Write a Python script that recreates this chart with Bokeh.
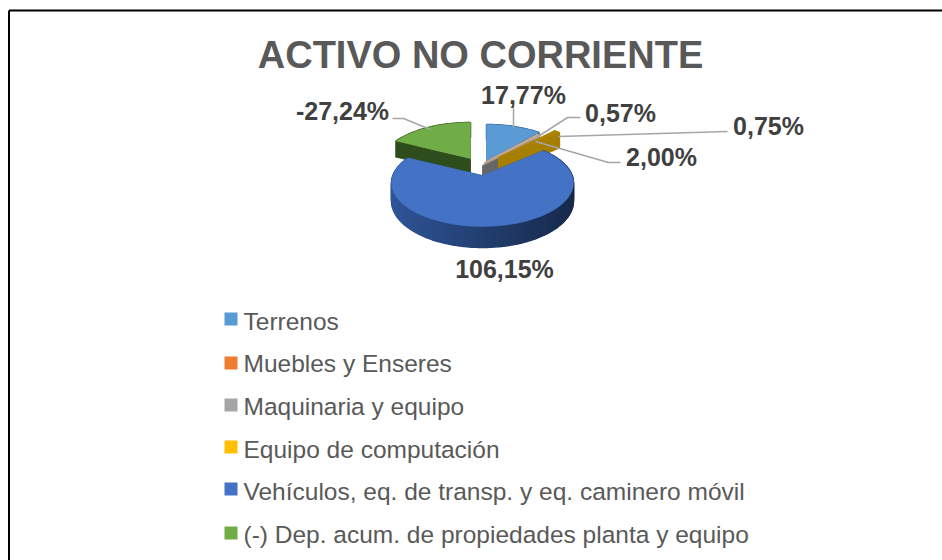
import math
from bokeh.plotting import figure
from bokeh.models import Range1d
from bokeh.core.properties import value
from bokeh.embed import file_html
from bokeh.resources import INLINE

# ---- data ----
title_text = "ACTIVO NO CORRIENTE"
categories = ["Terrenos", "Muebles y Enseres", "Maquinaria y equipo", "Equipo de computación",
              "Vehículos, eq. de transp. y eq. caminero móvil", "(-) Dep. acum. de propiedades planta y equipo"]
percent = [17.77, 0.57, 0.75, 2.00, 106.15, -27.24]
percent_labels = ["17,77%", "0,57%", "0,75%", "2,00%", "106,15%", "-27,24%"]
legend_colors = ["#5B9BD5", "#ED7D31", "#A5A5A5", "#FFC000", "#4472C4", "#70AD47"]
top_colors = ["#5B9BD5", "#DDA985", "#A5A5A5", "#AD8400", "#4472C4", "#70AD47"]
wall_colors = ["#2E5F8E", "#C9A58C", "#666666", "#A67E00", "#2F5597", "#2E4D1C"]

# ---- layout ----
W, H = 942, 560
RX, RY, K, DEPTH = 89.6, 42.2, 0.172, 17.4
apex_x = [486, 484, 482, 498, 482, 470]
apex_y = [160, 162, 165, 157, 175, 158]
label_x = [523, 620, 768, 661, 504, 342]
label_y = [94, 112, 125, 156, 268, 110]
leaders = [
    [(513, 105), (513, 127)],
    [(580, 117), (567, 117), (533, 139)],
    [(558, 136), (727, 131)],
    [(535, 141), (608, 162), (620, 162)],
    [],
    [(392, 118), (403, 118), (430, 129)],
]
legend_y = [318.5, 362.5, 404.5, 446.5, 488.5, 532.5]
text_y = [321, 363, 406, 449, 491, 534]

p = figure(width=W, height=H, output_backend="svg", toolbar_location=None,
           x_range=Range1d(0, W), y_range=Range1d(H, 0), min_border=0)
p.axis.visible = False
p.grid.visible = False
p.outline_line_color = None
p.background_fill_color = "white"


def project(ax, ay, theta, r=1.0):
    u, v = r * math.sin(theta), -r * math.cos(theta)
    f = 1 / (1 - K * v)
    return ax + RX * u * f, ay + RY * v * f, f


def mix(c, t):
    rgb = [int(c[i:i + 2], 16) for i in (1, 3, 5)]
    return "#%02x%02x%02x" % tuple(int(x * t) for x in rgb)


total = sum(abs(v) for v in percent)
spans, a = [], 0.0
for v in percent:
    s = abs(v) / total * 2 * math.pi
    spans.append((a, a + s))
    a += s

# painted from back to front
order = [5, 0, 1, 2, 3, 4]
for i in order:
    t0, t1 = spans[i]
    ax, ay = apex_x[i], apex_y[i]
    n = max(2, int((t1 - t0) / math.radians(2)))
    arc = [t0 + (t1 - t0) * k / n for k in range(n + 1)]
    # radial walls
    for t in (t0, t1):
        x, y, f = project(ax, ay, t)
        p.patch([ax, x, x, ax], [ay, y, y + DEPTH * f, ay + DEPTH],
                fill_color=wall_colors[i], line_color=wall_colors[i], line_width=0.5)
    # outer wall, shaded along the rim on the large slice only
    for a0, a1 in zip(arc[:-1], arc[1:]):
        x0, y0, f0 = project(ax, ay, a0)
        x1, y1, f1 = project(ax, ay, a1)
        frac = (x0 - ax + RX) / (2 * RX)
        shade = 1.0 - 0.5 * max(0.0, min(1.0, frac)) if t1 - t0 > 2 else 1.0
        col = mix(wall_colors[i], shade)
        p.patch([x0, x1, x1, x0], [y0, y1, y1 + DEPTH * f1, y0 + DEPTH * f0],
                fill_color=col, line_color=col, line_width=1.5)
    # top face
    xs, ys = [ax], [ay]
    for t in arc:
        x, y, _ = project(ax, ay, t)
        xs.append(x)
        ys.append(y)
    p.patch(xs, ys, fill_color=top_colors[i], line_color=top_colors[i], line_width=0.5)

# leader lines
for pts in leaders:
    if pts:
        p.line([q[0] for q in pts], [q[1] for q in pts], line_color="#A6A6A6", line_width=1.5)

# frame of the chart
p.line([8.5, 8.5], [560, 10], line_color="black", line_width=2)
p.line([8.5, 942], [10, 10], line_color="black", line_width=2)

# title
p.text([480], [54], text=[title_text], text_font=value("Liberation Sans"), text_font_style="bold",
       text_font_size="38px", text_color="#595959", text_align="center", text_baseline="middle")
# data labels
p.text(label_x, label_y, text=percent_labels, text_font=value("Liberation Sans"), text_font_style="bold",
       text_font_size="25px", text_color="#404040", text_align="center", text_baseline="middle")
# legend
p.scatter([230.5] * 6, legend_y, marker="square", size=13, fill_color=legend_colors, line_color=None)
p.text([243] * 6, text_y, text=categories, text_font=value("Liberation Sans"),
       text_font_size="24.5px", text_color="#595959", text_align="left", text_baseline="middle")

open("out.html", "w").write(file_html(p, INLINE))
